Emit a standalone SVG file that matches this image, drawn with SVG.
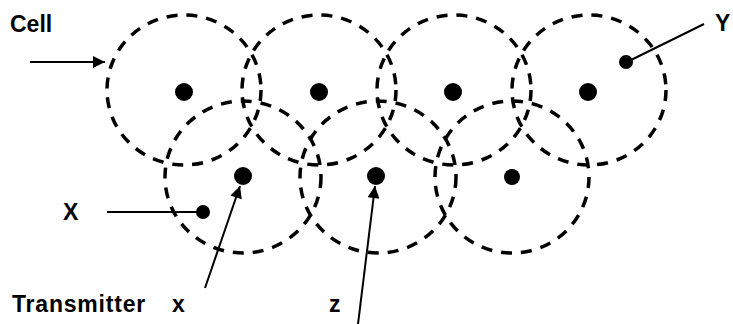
<svg xmlns="http://www.w3.org/2000/svg" width="733" height="324" viewBox="0 0 733 324">
<defs>
<style>
.cell{fill:none;stroke:#000;stroke-width:3.5;stroke-dasharray:11 9}
.dot{fill:#000}
.lbl{font-family:"Liberation Sans",Arial,sans-serif;font-weight:bold;font-size:23px;fill:#000}
.conn{stroke:#000;stroke-width:2;fill:none}
</style>
<marker id="ah" viewBox="0 0 10 10" refX="10" refY="5" markerWidth="7" markerHeight="6" orient="auto" markerUnits="strokeWidth">
<path d="M0,0 L10,5 L0,10 z" fill="#000"/>
</marker>
</defs>
<rect width="733" height="324" fill="#fff"/>
<g id="cell-t1"><ellipse class="cell" cx="184" cy="90" rx="77" ry="75"/><circle class="dot" cx="184" cy="92" r="9"/></g>
<g id="cell-t2"><ellipse class="cell" cx="319" cy="90" rx="77" ry="75"/><circle class="dot" cx="319" cy="92" r="9"/></g>
<g id="cell-t3"><ellipse class="cell" cx="454" cy="90" rx="77" ry="75"/><circle class="dot" cx="453" cy="92" r="9"/></g>
<g id="cell-t4"><ellipse class="cell" cx="589" cy="90" rx="77" ry="75"/><circle class="dot" cx="588" cy="92" r="9"/></g>
<g id="cell-b1"><ellipse class="cell" cx="243" cy="177" rx="78" ry="76"/><circle class="dot" cx="243" cy="176" r="9"/></g>
<g id="cell-b2"><ellipse class="cell" cx="378" cy="177" rx="78" ry="76"/><circle class="dot" cx="376" cy="176" r="9"/></g>
<g id="cell-b3"><ellipse class="cell" cx="512" cy="177" rx="77" ry="76"/><circle class="dot" cx="512" cy="177" r="8"/></g>
<g id="pt-x"><circle class="dot" cx="203" cy="212" r="7"/></g>
<g id="pt-y"><circle class="dot" cx="626" cy="62" r="7"/></g>
<g id="connectors">
<line class="conn" x1="30" y1="62" x2="105" y2="62" marker-end="url(#ah)"/>
<line class="conn" x1="107" y1="212" x2="200" y2="212"/>
<line class="conn" x1="629" y1="61" x2="704" y2="24"/>
<line class="conn" x1="205" y1="288" x2="240" y2="186" marker-end="url(#ah)"/>
<line class="conn" x1="358" y1="324" x2="375" y2="186" marker-end="url(#ah)"/>
</g>
<g id="labels">
<text class="lbl" x="10" y="32">Cell</text>
<text class="lbl" x="715" y="31">Y</text>
<text class="lbl" x="63" y="220">X</text>
<text class="lbl" x="12" y="312"><tspan letter-spacing="0.8">Transmitter</tspan><tspan x="172">x</tspan></text>
<text class="lbl" x="329" y="312">z</text>
</g>
</svg>
